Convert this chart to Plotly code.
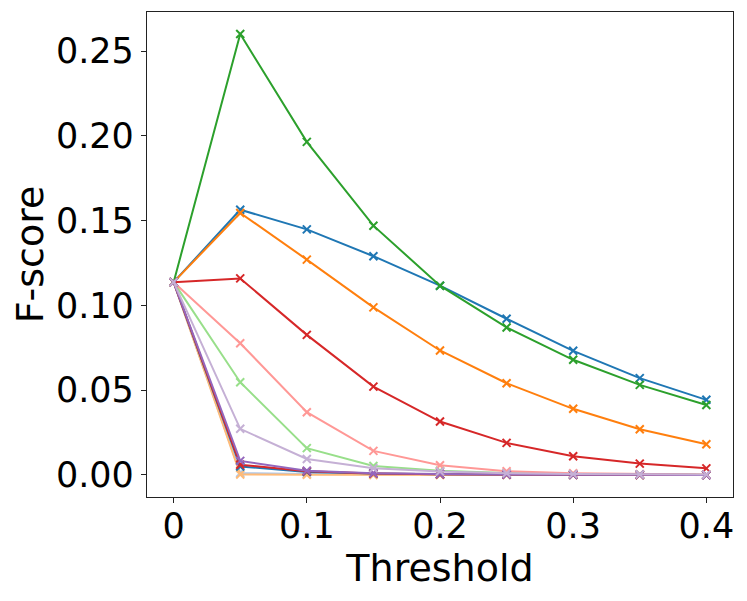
import plotly.graph_objects as go

thresholds = [0, 0.05, 0.1, 0.15, 0.2, 0.25, 0.3, 0.35, 0.4]

# F-score per threshold, one list per run
blue = [0.1137, 0.1564, 0.1448, 0.1290, 0.1116, 0.0921, 0.0732, 0.0571, 0.0443]
light_blue = [0.1137, 0.0012, 0.0006, 0.0003, 0.0002, 0.0001, 0.0001, 0.0, 0.0]
blue_low = [0.1137, 0.0050, 0.0018, 0.0008, 0.0004, 0.0002, 0.0001, 0.0001, 0.0]
orange = [0.1137, 0.1545, 0.1270, 0.0988, 0.0734, 0.0541, 0.0390, 0.0270, 0.0181]
light_orange = [0.1137, 0.0003, 0.0001, 0.0, 0.0, 0.0, 0.0, 0.0, 0.0]
green = [0.1137, 0.2600, 0.1964, 0.1470, 0.1116, 0.0870, 0.0679, 0.0531, 0.0413]
light_green = [0.1137, 0.0547, 0.0158, 0.0053, 0.0025, 0.0012, 0.0006, 0.0003, 0.0002]
red = [0.1137, 0.1159, 0.0826, 0.0521, 0.0315, 0.0189, 0.0110, 0.0067, 0.0039]
light_red = [0.1137, 0.0777, 0.0370, 0.0142, 0.0057, 0.0022, 0.0010, 0.0005, 0.0002]
red_low = [0.1137, 0.0060, 0.0022, 0.0009, 0.0004, 0.0002, 0.0001, 0.0, 0.0]
purple = [0.1137, 0.0083, 0.0025, 0.0010, 0.0005, 0.0002, 0.0001, 0.0001, 0.0]
light_purple = [0.1137, 0.0272, 0.0094, 0.0040, 0.0020, 0.0010, 0.0005, 0.0003, 0.0002]

series = [
    (blue, '#1f77b4'),
    (light_blue, '#aec7e8'),
    (orange, '#ff7f0e'),
    (light_orange, '#ffbb78'),
    (green, '#2ca02c'),
    (light_green, '#98df8a'),
    (red, '#d62728'),
    (light_red, '#ff9896'),
    (blue_low, '#1f77b4'),
    (red_low, '#d62728'),
    (purple, '#9467bd'),
    (light_purple, '#c5b0d5'),
]

fig = go.Figure()
for values, color in series:
    fig.add_trace(go.Scatter(x=thresholds, y=values, mode='lines+markers',
                             line=dict(color=color, width=2),
                             marker=dict(symbol='x-thin', size=8,
                                         line=dict(color=color, width=2)),
                             showlegend=False))

axis_style = dict(showline=True, linecolor='#222', linewidth=1.3, mirror=True,
                  ticks='outside', ticklen=5, tickwidth=1.2, tickcolor='#222',
                  showgrid=False, zeroline=False, automargin=False,
                  tickfont=dict(size=35, color='black'))

# page body adds 8px, so the figure is a bit smaller than the window
fig.update_layout(
    width=739, height=593,
    margin=dict(l=139, r=14, t=4, b=104),
    plot_bgcolor='white', paper_bgcolor='white',
    font=dict(family='DejaVu Sans', color='black'),
    xaxis=dict(range=[-0.02, 0.42], tickvals=[0, 0.1, 0.2, 0.3, 0.4],
               ticktext=['0', '0.1', '0.2', '0.3', '0.4'],
               ticklabelstandoff=-7,
               title=dict(text='Threshold', font=dict(size=38), standoff=0),
               **axis_style),
    yaxis=dict(range=[-0.013, 0.273], tickvals=[0, 0.05, 0.1, 0.15, 0.2, 0.25],
               tickformat='.2f',
               title=dict(text='F-score', font=dict(size=38), standoff=7),
               **axis_style),
)

fig.write_html('out.html')
